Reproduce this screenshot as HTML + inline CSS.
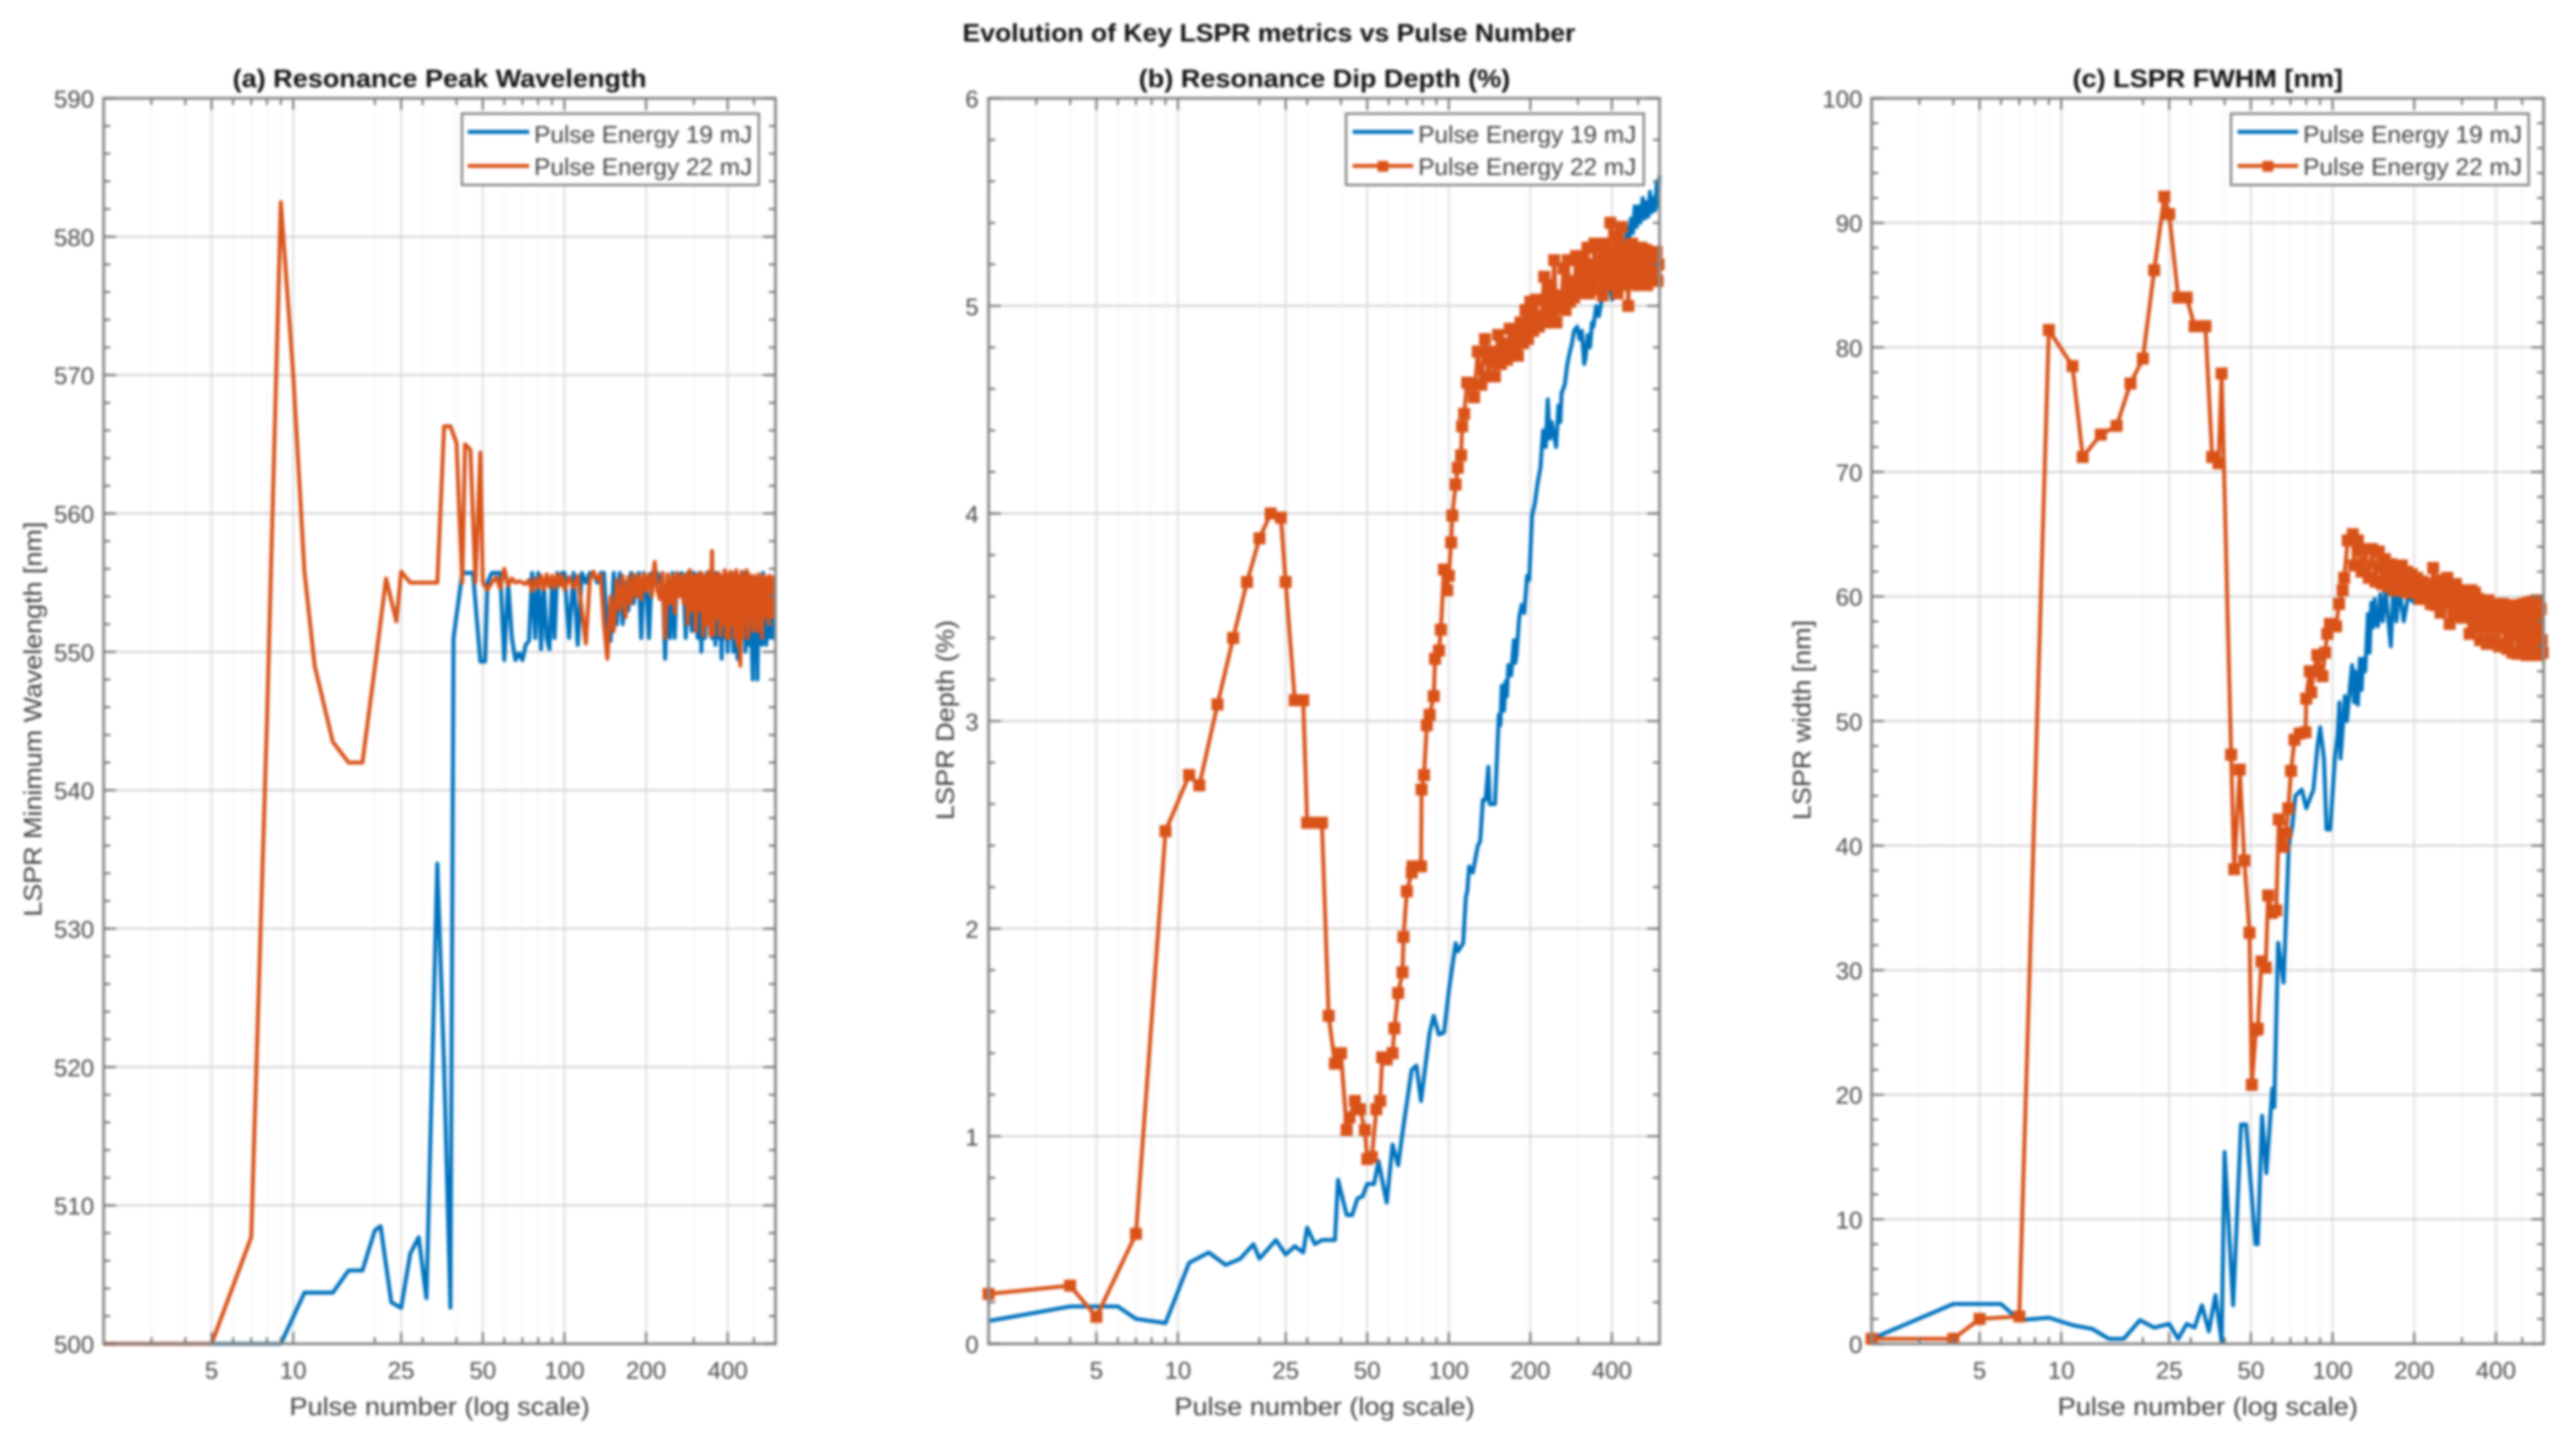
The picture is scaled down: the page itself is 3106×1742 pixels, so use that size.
<!DOCTYPE html>
<html lang="en">
<head>
<meta charset="utf-8">
<title>Evolution of Key LSPR metrics vs Pulse Number</title>
<style>
html,body{margin:0;padding:0;background:#fff;width:3106px;height:1742px;overflow:hidden}
svg{display:block;filter:blur(1.5px);font-family:"Liberation Sans",sans-serif}
.title{font-size:31px;font-weight:bold;fill:#111;text-anchor:middle}
.axis-label{font-size:31px;fill:#404040;text-anchor:middle}
.tick-label{font-size:29px;fill:#4a4a4a}
.legend-text{font-size:29px;fill:#404040}
</style>
</head>
<body>
<svg id="figure" xmlns="http://www.w3.org/2000/svg" width="3106" height="1742" viewBox="0 0 3106 1742">
  <rect width="3106" height="1742" fill="#fff"/>
  <text class="title" x="1530" y="50" textLength="739" lengthAdjust="spacingAndGlyphs">Evolution of Key LSPR metrics vs Pulse Number</text>

  <g id="panel-a">
    <g id="plot-a"></g>
    <text class="title" x="530" y="105" textLength="499" lengthAdjust="spacingAndGlyphs">(a) Resonance Peak Wavelength</text>
    <text class="axis-label" x="530" y="1706" textLength="362" lengthAdjust="spacingAndGlyphs">Pulse number (log scale)</text>
    <text class="axis-label" transform="translate(50 867) rotate(-90)" textLength="476" lengthAdjust="spacingAndGlyphs">LSPR Minimum Wavelength [nm]</text>
    <g>
      <rect x="557" y="137" width="358" height="86" fill="#fff" stroke="#8a8a8a" stroke-width="3"/>
      <line x1="564" x2="638" y1="159" y2="159" stroke="#0072BD" stroke-width="4.8"/>
      <text class="legend-text" x="644" y="172" textLength="263" lengthAdjust="spacingAndGlyphs">Pulse Energy 19 mJ</text>
      <line x1="564" x2="638" y1="200" y2="200" stroke="#D95319" stroke-width="4.8"/>
      <text class="legend-text" x="644" y="211" textLength="263" lengthAdjust="spacingAndGlyphs">Pulse Energy 22 mJ</text>
    </g>
  </g>

  <g id="panel-b">
    <g id="plot-b"></g>
    <text class="title" x="1597" y="105" textLength="448" lengthAdjust="spacingAndGlyphs">(b) Resonance Dip Depth (%)</text>
    <text class="axis-label" x="1597" y="1706" textLength="362" lengthAdjust="spacingAndGlyphs">Pulse number (log scale)</text>
    <text class="axis-label" transform="translate(1150 868) rotate(-90)" textLength="241" lengthAdjust="spacingAndGlyphs">LSPR Depth (%)</text>
    <g>
      <rect x="1623" y="137" width="359" height="86" fill="#fff" stroke="#8a8a8a" stroke-width="3"/>
      <line x1="1631" x2="1704" y1="159" y2="159" stroke="#0072BD" stroke-width="4.8"/>
      <text class="legend-text" x="1710" y="172" textLength="263" lengthAdjust="spacingAndGlyphs">Pulse Energy 19 mJ</text>
      <line x1="1631" x2="1704" y1="200" y2="200" stroke="#D95319" stroke-width="4.8"/>
      <rect x="1661" y="194" width="13" height="13" fill="#D95319"/>
      <text class="legend-text" x="1710" y="211" textLength="263" lengthAdjust="spacingAndGlyphs">Pulse Energy 22 mJ</text>
    </g>
  </g>

  <g id="panel-c">
    <g id="plot-c"></g>
    <text class="title" x="2662" y="105" textLength="326" lengthAdjust="spacingAndGlyphs">(c) LSPR FWHM [nm]</text>
    <text class="axis-label" x="2662" y="1706" textLength="362" lengthAdjust="spacingAndGlyphs">Pulse number (log scale)</text>
    <text class="axis-label" transform="translate(2183 868) rotate(-90)" textLength="241" lengthAdjust="spacingAndGlyphs">LSPR width [nm]</text>
    <g>
      <rect x="2690" y="137" width="359" height="86" fill="#fff" stroke="#8a8a8a" stroke-width="3"/>
      <line x1="2698" x2="2771" y1="159" y2="159" stroke="#0072BD" stroke-width="4.8"/>
      <text class="legend-text" x="2777" y="172" textLength="264" lengthAdjust="spacingAndGlyphs">Pulse Energy 19 mJ</text>
      <line x1="2698" x2="2771" y1="200" y2="200" stroke="#D95319" stroke-width="4.8"/>
      <rect x="2728" y="194" width="13" height="13" fill="#D95319"/>
      <text class="legend-text" x="2777" y="211" textLength="264" lengthAdjust="spacingAndGlyphs">Pulse Energy 22 mJ</text>
    </g>
  </g>
</svg>

<script>
// ---------- shared x axis values ----------
const xTickValues = [5, 10, 25, 50, 100, 200, 400];
const xMinorValues = [3, 4, 6, 7, 8, 9, 20, 30, 40, 60, 70, 80, 90, 300, 500];
const xDomain = [2, 600];

const densePulses = [52,54,56,58,60,62,64,66,68,70,72,74,76,78,80,82,84,86,88,90,92,94,96,98,100,
104,108,112,116,120,124,128,132,136,140,144,148,152,156,160,164,168,172,176,180,184,188,192,196,200,
205,210,215,220,225,230,235,240,245,250,255,260,265,270,275,280,285,290,295,300,305,310,315,320,325,330,335,340,345,350,355,360,365,370,375,380,385,390,395,400,
405,410,415,420,425,430,435,440,445,450,455,460,465,470,475,480,485,490,495,500,505,510,515,520,525,530,535,540,545,550,555,560,565,570,575,580,585,590,595];

const tailPulses = [120,124,128,132,136,140,144,148,152,156,160,164,168,172,176,180,184,188,192,196,200,
205,210,215,220,225,230,235,240,245,250,255,260,265,270,275,280,285,290,295,300,305,310,315,320,325,330,335,340,345,350,355,360,365,370,375,380,385,390,395,400,
405,410,415,420,425,430,435,440,445,450,455,460,465,470,475,480,485,490,495,500,505,510,515,520,525,530,535,540,545,550,555,560,565,570,575,580,585,590,595];

// ---------- panel (a): LSPR minimum wavelength ----------
const aTicks = [500, 510, 520, 530, 540, 550, 560, 570, 580, 590];
const aEarlyPulses19 = [2,9,11,14,16,18,20,21,23,25,27,29,31,34,36,38,39,42,46,49,51];
const aEarlyValues19 = [500,500,503.7,503.7,505.3,505.3,508.2,508.5,503,502.6,506.5,507.7,503.3,534.7,520,502.6,551,555.7,555.7,549.3,549.3];
const aDenseValues19 = [555.0,555.7,555.7,555.7,549.4,555.0,551.0,549.4,549.9,549.4,550.5,550.8,555.7,551.0,555.7,550.2,555.0,551.0,550.2,555.0,551.0,555.7,555.0,555.7,555.7,
551.0,555.7,550.5,555.7,555.0,555.7,555.7,555.0,555.7,555.7,551.0,550.8,555.7,552.0,555.7,552.0,555.0,553.0,555.7,553.5,555.0,555.7,551.0,555.7,555.0,
551.0,555.7,555.0,555.7,555.0,555.7,549.5,555.0,551.0,555.7,551.0,555.7,555.0,555.7,555.0,551.0,555.7,555.0,551.5,555.7,555.0,551.0,555.7,550.0,555.0,551.0,555.7,552.0,555.0,551.0,555.7,550.5,555.7,551.0,554.0,549.5,555.0,551.0,554.5,550.0,
555.0,551.0,553.5,550.0,555.7,551.0,549.5,555.0,550.5,554.0,551.0,555.7,550.0,552.5,555.0,550.5,554.5,551.0,548.0,555.0,550.5,553.5,548.0,555.0,551.0,554.0,550.5,555.7,551.0,553.0,550.5,555.0,551.0,554.0,552.0,555.0,551.0,554.0,551.0];
const aEarlyPulses22 = [2,5,7,8,9,10,11,12,14,16,18,20,22,24,25,27,34,36,38,40,42,43,45,47,49,50];
const aEarlyValues22 = [500,500,507.7,545,582.5,570,555.8,549,543.5,542,542,548.9,555.3,552.2,555.8,555,555,566.3,566.3,565.1,555,565,564.6,555,564.4,555];
const aDenseValues22 = [554.5,555.0,555.4,554.6,556.0,554.8,555.3,555.0,555.1,555.0,554.9,555.2,554.4,555.3,554.6,555.5,554.5,555.6,554.7,555.5,554.6,555.6,554.8,555.5,554.5,
555.4,554.6,555.5,553.0,550.6,555.2,555.8,555.2,555.6,552.0,549.5,554.0,551.5,555.2,553.0,555.5,552.5,555.4,553.5,555.6,554.0,555.5,553.8,555.6,554.4,
555.6,554.0,556.5,554.5,553.8,555.7,551.0,555.6,553.5,555.5,552.8,555.7,554.0,555.5,553.5,555.6,552.0,555.9,553.0,555.5,551.5,555.6,553.0,555.7,551.2,555.5,552.0,555.8,551.2,557.3,551.2,555.5,552.5,555.7,551.2,555.5,552.0,555.9,551.0,555.6,
551.0,555.8,552.0,555.6,551.0,555.9,550.5,555.5,549.0,555.8,551.0,555.4,552.0,555.9,551.0,555.6,552.5,555.4,551.5,555.5,553.0,555.3,551.5,555.6,552.0,555.3,551.0,555.5,552.5,555.4,553.0,555.3,552.0,555.5,553.0,555.3,552.5,555.4,553.0];

// ---------- panel (b): LSPR depth ----------
const bTicks = [0, 1, 2, 3, 4, 5, 6];
const bPulses19 = [2,4,6,7,9,11,13,15,17,19,20,23,25,27,29,30,32,34,38,39,42,44,46,48,50,53,55,59,62,65,68,73,76,79,85,88,92,96,100,106,108,113,115.6,117,119,122.6,128,130.6,133.6,136.7,140,141.7,148,151,153,155,157,160,162,164,166,170,174,176,178,182,186,190,194.6,198,203,208,213,218,223,228,232,236,240,244,249,254,258,261,268,274,279,285,290,298,304,310,316,320,326,332,338,342,350,358,366,372,380,390,401,410,420,430,439,448,455,462,470,478,486,494,502,510,520,528,536,545,553,561,570,578,586,594,600];
const bValues19 = [0.11,0.18,0.18,0.12,0.1,0.39,0.44,0.38,0.41,0.48,0.41,0.5,0.43,0.47,0.44,0.56,0.48,0.5,0.5,0.79,0.62,0.62,0.7,0.71,0.77,0.77,0.88,0.68,0.96,0.86,1.05,1.32,1.34,1.17,1.5,1.58,1.49,1.5,1.7,1.93,1.89,1.93,2.15,2.18,2.3,2.27,2.4,2.42,2.62,2.62,2.78,2.6,2.6,2.85,3.03,2.98,3.17,3.05,3.19,3.12,3.27,3.22,3.39,3.28,3.32,3.5,3.56,3.52,3.7,3.68,3.99,4.05,4.15,4.22,4.4,4.32,4.55,4.36,4.44,4.38,4.32,4.52,4.44,4.58,4.62,4.72,4.77,4.82,4.88,4.9,4.84,4.88,4.72,4.75,4.86,4.8,4.92,4.9,5.0,4.95,5.02,5.10,5.05,5.12,5.03,5.20,5.14,5.28,5.30,5.25,5.38,5.30,5.42,5.35,5.48,5.38,5.48,5.40,5.52,5.42,5.50,5.43,5.55,5.45,5.52,5.46,5.60,5.48,5.63];
const bEarlyPulses22 = [2,4,5,7,9,11,12,14,16,18,20,22,24,25,27,29,30,32,34,36,38,40,42,43,45,47,49,50,52,54,55.8,56.8,59,62,63,65,67.5,68,70,73,73.5,79,79.4,81,83,85,88,89,92,93.5,96,98.7,100,102,103,106,108,111,112,114,117];
const bEarlyValues22 = [0.24,0.28,0.13,0.53,2.47,2.74,2.69,3.08,3.4,3.67,3.88,4,3.98,3.67,3.1,3.1,2.51,2.51,2.51,1.58,1.35,1.4,1.03,1.09,1.17,1.13,1.03,0.89,0.9,1.13,1.17,1.38,1.37,1.4,1.52,1.69,1.79,1.96,2.18,2.27,2.3,2.3,2.67,2.74,2.98,3.03,3.12,3.3,3.34,3.44,3.73,3.63,3.7,3.86,3.99,4.14,4.22,4.28,4.42,4.48,4.63];
const bTailValues22 = [4.62,4.56,4.78,4.62,4.84,4.66,4.78,4.66,4.86,4.72,4.82,4.74,4.89,4.76,4.87,4.76,4.92,4.82,4.98,4.84,5.02,
4.88,5.03,4.90,4.95,5.14,4.92,5.10,4.96,5.22,4.92,5.05,5.00,5.18,4.98,5.22,5.02,5.12,5.04,5.24,5.08,5.20,5.06,5.24,5.10,5.28,5.06,5.20,5.12,5.30,5.08,5.22,5.14,5.28,5.05,5.30,5.14,5.26,5.10,5.40,5.12,
5.26,5.16,5.34,5.06,5.30,5.12,5.38,5.18,5.28,5.10,5.22,5.00,5.26,5.12,5.30,5.14,5.24,5.18,5.28,5.10,5.25,5.14,5.28,5.12,5.26,5.16,5.27,5.10,5.24,5.14,5.25,5.12,5.26,5.13,5.24,5.15,5.26,5.12,5.20];

// ---------- panel (c): LSPR FWHM ----------
const cTicks = [0, 10, 20, 30, 40, 50, 60, 70, 80, 90, 100];
const cPulses19 = [2,4,6,7,8,9,11,13,15,17,19.5,22,25,27,29,31,33,35,37,39,40,43,46,48,52,53,55,57,60,61,63,66,69,71,73,77,80,85,88,90,93,95,98,102,104.5,106,107,109,111,113,116,118,120,121,124,126,128,129.5,132,135,137,139,141,143,145,147,150,153,157,160,164,167.5,172,176,183,190,200,226,260,300,400,600];
const cValues19 = [0.4,3.2,3.2,1.9,2,2.1,1.5,1.2,0.4,0.4,1.9,1.3,1.6,0.4,1.6,1.3,3.1,1,3.9,0.2,15.4,3.1,17.6,17.6,8,8,18.3,13.7,20.5,19,32.2,29,40,41.5,44,44.5,43,44.5,48,49.5,47,41.3,41.3,47,49,51.5,47,49.4,52,50,52.8,54.5,51.5,54,51.3,55,52.5,55,54,58.6,55.5,59.5,57.5,59.8,57.8,57.6,60.2,58,60.5,58.5,56,60.5,58,60.8,58,60,59.5,61,60,59,58,57];
const cEarlyPulses22 = [2,4,5,7,9,11,12,14,16,18,20,22,24,25,27,29,31,34,36,38,39,42.3,43.4,45.5,47.3,49.4,50.4,52.2,53,54.7,56.7,57.9,59.7,62,63.4,65.9,67.3,68.7,70.3,72.4,75.6,79.5,80,82.4,83.5,85.3,87.9,91.8,93.8,95.7,97.8,103,105.7,108.9,110.4,113.8,118.8];
const cEarlyValues22 = [0.4,0.4,2,2.2,81.4,78.5,71.2,73,73.7,77.1,79.1,86.2,92.1,90.7,84,84,81.7,81.7,71.2,70.7,77.9,47.3,38.1,46.1,38.8,33,20.8,25.2,25.3,30.7,30.2,36,34.6,34.8,42.1,39.9,41,43,46,48.5,49,49.1,51.8,54,52.3,54,55.3,53.6,55.5,57,57.8,57.6,59.4,60.5,61.5,64.5,65];
const cTailValues22 = [62.5,64.5,62.0,63.8,61.5,63.8,61.2,63.6,61.0,63.0,60.8,62.6,60.5,62.0,61.0,62.5,60.4,62.0,60.3,61.8,60.4,
61.5,59.8,61.2,59.8,61.0,59.4,62.3,59.3,61.3,58.7,60.8,59.5,61.5,57.8,60.8,59.2,61.0,58.6,60.5,58.3,60.3,58.8,60.2,57.0,60.5,58.3,60.3,57.5,59.8,56.5,59.6,57.5,59.5,56.2,59.7,57.5,59.3,56.5,59.0,57.5,
59.4,56.0,58.8,57.5,59.4,56.2,58.5,55.8,59.3,57.3,58.5,55.5,59.2,57.0,58.6,55.4,59.3,57.5,58.2,55.6,59.4,56.5,58.8,55.3,59.5,56.8,58.5,55.3,59.6,57.0,58.5,55.5,59.7,56.0,58.8,55.3,59.0,56.5,55.5];

// ---------- rendering ----------
const SVGNS = 'http://www.w3.org/2000/svg';
const BLUE = '#0072BD';
const ORANGE = '#D95319';
const FRAME_TOP = 118.5;
const FRAME_BOTTOM = 1620;

function create(parent, tag) {
  const el = document.createElementNS(SVGNS, tag);
  parent.appendChild(el);
  return el;
}

function drawLine(parent, x1, y1, x2, y2, color, width, name) {
  const el = create(parent, 'line');
  el.setAttribute('x1', x1);
  el.setAttribute('y1', y1);
  el.setAttribute('x2', x2);
  el.setAttribute('y2', y2);
  el.setAttribute('stroke', color);
  el.setAttribute('stroke-width', width);
  
  
  return el;
}

function drawLabel(parent, x, y, anchor, content, name) {
  const el = create(parent, 'text');
  el.setAttribute('class', 'tick-label');
  el.setAttribute('x', x);
  el.setAttribute('y', y);
  el.setAttribute('text-anchor', anchor);
  el.textContent = content;
  
  
}

function drawSeries(parent, pulses, values, color, markers, xScale, yScale, name) {
  const points = [];
  values.forEach(function (v, i) {
    points.push(xScale(pulses[i]).toFixed(1) + ',' + yScale(v).toFixed(1));
  });
  const line = create(parent, 'polyline');
  line.setAttribute('points', points.join(' '));
  line.setAttribute('fill', 'none');
  line.setAttribute('stroke', color);
  line.setAttribute('stroke-width', 4.8);
  line.setAttribute('stroke-linejoin', 'round');
  
  
  if (markers) {
    values.forEach(function (v, i) {
      const m = create(parent, 'rect');
      m.setAttribute('x', (xScale(pulses[i]) - 6).toFixed(1));
      m.setAttribute('y', (yScale(v) - 6).toFixed(1));
      m.setAttribute('width', 12);
      m.setAttribute('height', 12);
      m.setAttribute('fill', '#D95319');
      m.setAttribute('stroke', color);
      m.setAttribute('stroke-width', 2.5);
      
      
    });
  }
}

function drawPanel(key, left, right, labelX, yTicks, minorStep, series) {
  const plot = document.getElementById('plot-' + key);
  const logMin = Math.log10(xDomain[0]);
  const logMax = Math.log10(xDomain[1]);
  const xScale = function (n) {
    return left + (Math.log10(n) - logMin) / (logMax - logMin) * (right - left);
  };
  const yMin = yTicks[0];
  const yMax = yTicks[yTicks.length - 1];
  const yScale = function (v) {
    return FRAME_BOTTOM - (v - yMin) / (yMax - yMin) * (FRAME_BOTTOM - FRAME_TOP);
  };

  // grid
  xMinorValues.forEach(function (n) {
    drawLine(plot, xScale(n), FRAME_TOP, xScale(n), FRAME_BOTTOM, '#f7f7f7', 2, 'x-minor-grid-line');
  });
  xTickValues.forEach(function (n) {
    drawLine(plot, xScale(n), FRAME_TOP, xScale(n), FRAME_BOTTOM, '#e6e6e6', 3, 'x-major-grid-line');
  });
  yTicks.forEach(function (v) {
    drawLine(plot, left, yScale(v), right, yScale(v), '#d6d6d6', 2.5, 'y-major-grid-line');
  });

  // series
  series.forEach(function (s) {
    drawSeries(plot, s.pulses, s.values, s.color, s.markers, xScale, yScale, s.name);
  });

  // frame
  const frame = create(plot, 'rect');
  frame.setAttribute('x', left);
  frame.setAttribute('y', FRAME_TOP);
  frame.setAttribute('width', right - left);
  frame.setAttribute('height', FRAME_BOTTOM - FRAME_TOP);
  frame.setAttribute('fill', 'none');
  frame.setAttribute('stroke', '#8c8c8c');
  frame.setAttribute('stroke-width', 3.5);
  
  

  // x ticks
  xMinorValues.forEach(function (n) {
    drawLine(plot, xScale(n), FRAME_BOTTOM, xScale(n), FRAME_BOTTOM - 8, '#777', 2.5, 'x-minor-tick');
    drawLine(plot, xScale(n), FRAME_TOP, xScale(n), FRAME_TOP + 8, '#777', 2.5, 'x-minor-tick');
  });
  xTickValues.forEach(function (n) {
    drawLine(plot, xScale(n), FRAME_BOTTOM, xScale(n), FRAME_BOTTOM - 14, '#777', 2.5, 'x-major-tick');
    drawLine(plot, xScale(n), FRAME_TOP, xScale(n), FRAME_TOP + 14, '#777', 2.5, 'x-major-tick');
    drawLabel(plot, xScale(n), 1662, 'middle', String(n), 'x-tick-label');
  });

  // y ticks
  for (let v = yMin; v < yMax - minorStep / 2; v += minorStep) {
    drawLine(plot, left, yScale(v), left + 8, yScale(v), '#777', 2.5, 'y-minor-tick');
    drawLine(plot, right, yScale(v), right - 8, yScale(v), '#777', 2.5, 'y-minor-tick');
  }
  yTicks.forEach(function (v) {
    drawLine(plot, left, yScale(v), left + 15, yScale(v), '#777', 2.5, 'y-major-tick');
    drawLine(plot, right, yScale(v), right - 15, yScale(v), '#777', 2.5, 'y-major-tick');
    drawLabel(plot, labelX, yScale(v) + 11, 'end', String(v), 'y-tick-label');
  });
}

drawPanel('a', 125, 935, 113.5, aTicks, 2, [
  { pulses: aEarlyPulses19.concat(densePulses), values: aEarlyValues19.concat(aDenseValues19), color: BLUE, markers: false, name: 'series-a-19mj' },
  { pulses: aEarlyPulses22.concat(densePulses), values: aEarlyValues22.concat(aDenseValues22), color: ORANGE, markers: false, name: 'series-a-22mj' }
]);
drawPanel('b', 1192, 2001, 1180, bTicks, 0.2, [
  { pulses: bPulses19, values: bValues19, color: BLUE, markers: false, name: 'series-b-19mj' },
  { pulses: bEarlyPulses22.concat(tailPulses), values: bEarlyValues22.concat(bTailValues22), color: ORANGE, markers: true, name: 'series-b-22mj' }
]);
drawPanel('c', 2256.7, 3067, 2245.7, cTicks, 2, [
  { pulses: cPulses19, values: cValues19, color: BLUE, markers: false, name: 'series-c-19mj' },
  { pulses: cEarlyPulses22.concat(tailPulses), values: cEarlyValues22.concat(cTailValues22), color: ORANGE, markers: true, name: 'series-c-22mj' }
]);
</script>
</body>
</html>
